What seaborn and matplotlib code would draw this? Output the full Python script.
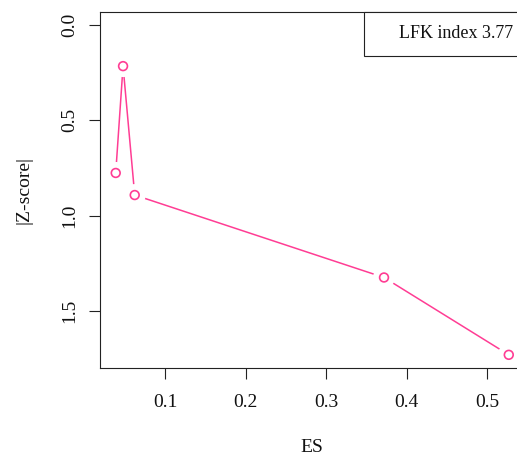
import matplotlib
matplotlib.use("Agg")
import matplotlib.pyplot as plt
import seaborn as sns
import pandas as pd
from matplotlib.patches import Rectangle

es = [0.0387, 0.0478, 0.0623, 0.372, 0.527]
zscore = [0.776, 0.215, 0.892, 1.325, 1.731]
x_ticks = [0.1, 0.2, 0.3, 0.4, 0.5]
y_ticks = [0.0, 0.5, 1.0, 1.5]
legend_text = "LFK index 3.77"
x_label = "ES"
y_label = "|Z-score|"

df = pd.DataFrame({"ES": es, "Z": zscore})

sns.set_style("white")
plt.rcParams["font.family"] = ["Liberation Serif", "DejaVu Serif"]
plt.rcParams["font.size"] = 14

pink = "#ff3d94"
fig = plt.figure(figsize=(5.17, 4.58), dpi=100)
W, H = 517, 458
left, right, top, bottom = 100, 524.5, 12, 368
ax = fig.add_axes([left / W, 1 - bottom / H, (right - left) / W, (bottom - top) / H])

sns.lineplot(data=df, x="ES", y="Z", sort=False, estimator=None, color=pink,
             linewidth=1.1, ax=ax, zorder=2)
sns.scatterplot(data=df, x="ES", y="Z", s=250, color="white", edgecolor="none",
                linewidth=0, ax=ax, zorder=3)
sns.scatterplot(data=df, x="ES", y="Z", s=40, facecolor="none", edgecolor=pink,
                linewidth=1.2, ax=ax, zorder=4)

span_x = max(es) - min(es)
ax.set_xlim(min(es) - 0.04 * span_x, max(es) + 0.04 * span_x)
ymax = max(zscore)
ax.set_ylim(ymax * 1.04, -0.04 * ymax)

ax.set_xticks(x_ticks)
ax.set_xticklabels([f"{v:.1f}" for v in x_ticks])
ax.set_yticks(y_ticks)
ax.set_yticklabels([f"{v:.1f}" for v in y_ticks], rotation=90, va="center")

for s in ["left", "top", "bottom", "right"]:
    ax.spines[s].set_color("#222222")
    ax.spines[s].set_linewidth(0.8)
ax.tick_params(axis="both", which="major", bottom=True, left=True, direction="out",
               length=8, width=0.8, color="#222222", labelsize=14,
               labelcolor="#111111")
ax.tick_params(axis="x", pad=11)
ax.tick_params(axis="y", pad=8)

ax.set_xlabel(x_label, fontsize=14, color="#111111")
ax.set_ylabel(y_label, fontsize=14, color="#111111")
ax.xaxis.set_label_coords(0.5, (bottom - 448) / (bottom - top))
ax.xaxis.label.set_va("center")
ax.yaxis.set_label_coords((23.5 - left) / (right - left), 0.5)
ax.yaxis.label.set_va("center")

bx0 = (364 - left) / (right - left)
by0 = (bottom - 56) / (bottom - top)
ax.add_patch(Rectangle((bx0, by0), 1 - bx0, 1 - by0, transform=ax.transAxes,
                       facecolor="white", edgecolor="#222222", linewidth=0.8,
                       clip_on=False, zorder=5))
ax.text((399 - left) / (right - left), (bottom - 34) / (bottom - top), legend_text,
        transform=ax.transAxes, ha="left", va="center", fontsize=13,
        color="#111111", zorder=6)

fig.savefig("out.png", dpi=100)
